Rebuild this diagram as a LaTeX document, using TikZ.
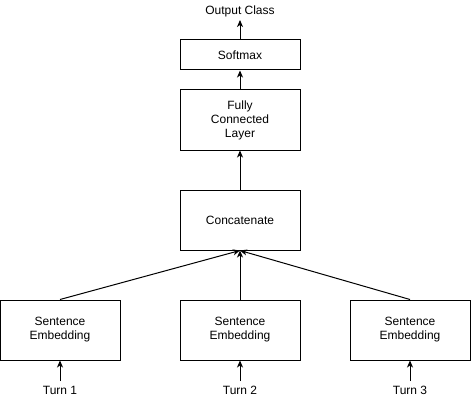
\documentclass[tikz,border=0pt]{standalone}
\usepackage{fontspec}
\setmainfont{Liberation Sans}
\usetikzlibrary{arrows.meta}
\begin{document}
\begin{tikzpicture}[x=1pt,y=-1pt,
  box/.style={draw,line width=1pt,inner sep=0pt,align=center,font=\fontsize{12}{14}\selectfont},
  lbl/.style={inner sep=0pt,font=\fontsize{12}{14}\selectfont},
  arr/.style={line width=1pt,-{Stealth[length=7pt,width=6pt,inset=2pt]}}]
\useasboundingbox[fill=white] (0,0) rectangle (471,401);
\node[box,minimum width=120pt,minimum height=30pt] (soft) at (240,55) {Softmax};
\node[box,minimum width=120pt,minimum height=60pt] (fc) at (240,120) {Fully\\Connected\\Layer};
\node[box,minimum width=120pt,minimum height=60pt] (cat) at (240,220) {Concatenate};
\node[box,minimum width=120pt,minimum height=60pt] (e1) at (60,330) {Sentence\\Embedding};
\node[box,minimum width=120pt,minimum height=60pt] (e2) at (240,330) {Sentence\\Embedding};
\node[box,minimum width=120pt,minimum height=60pt] (e3) at (410,330) {Sentence\\Embedding};
\node[lbl] (out) at (240,11) {Output Class};
\node[lbl] (t1) at (60,390) {Turn 1};
\node[lbl] (t2) at (240,390) {Turn 2};
\node[lbl] (t3) at (410,390) {Turn 3};
\coordinate (outb) at (240,20);
\coordinate (t1t) at (60,381);
\coordinate (t2t) at (240,381);
\coordinate (t3t) at (410,381);
\draw[arr] (soft.north) -- (outb);
\draw[arr] (fc.north) -- (soft.south);
\draw[arr] (cat.north) -- (fc.south);
\draw[arr] (e1.north) -- (cat.south);
\draw[arr] (e2.north) -- (cat.south);
\draw[arr] (e3.north) -- (cat.south);
\draw[arr] (t1t) -- (e1.south);
\draw[arr] (t2t) -- (e2.south);
\draw[arr] (t3t) -- (e3.south);
\end{tikzpicture}
\end{document}
